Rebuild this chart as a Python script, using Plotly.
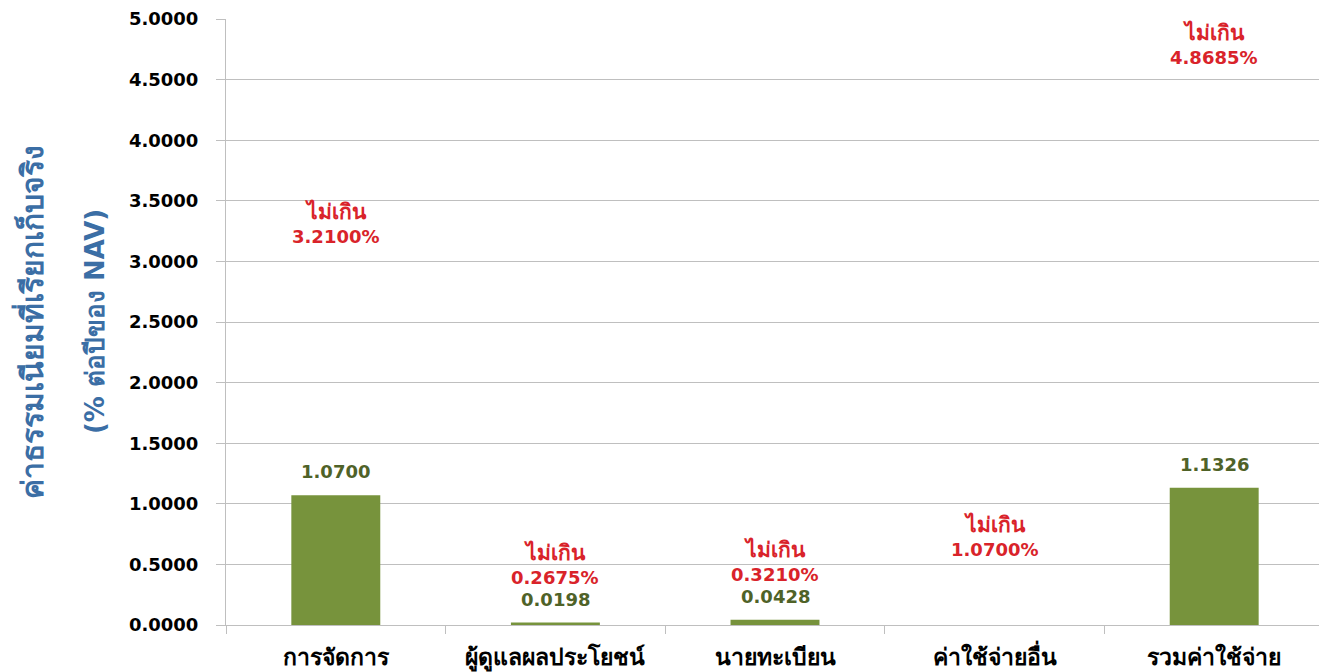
import plotly.graph_objects as go

categories = ["การจัดการ", "ผู้ดูแลผลประโยชน์", "นายทะเบียน", "ค่าใช้จ่ายอื่น", "รวมค่าใช้จ่าย"]
actual_fee = [1.0700, 0.0198, 0.0428, None, 1.1326]
fee_limit = [3.2100, 0.2675, 0.3210, 1.0700, 4.8685]
limit_label_prefix = "ไม่เกิน"
y_ticks = [0, 0.5, 1.0, 1.5, 2.0, 2.5, 3.0, 3.5, 4.0, 4.5, 5.0]
y_title_1 = "ค่าธรรมเนียมที่เรียกเก็บจริง"
y_title_2 = "(% ต่อปีของ NAV)"

# vertical placement (data units) of the red "limit" text blocks
limit_label_y = [3.305, 0.495, 0.516, 0.726, 4.785]

FONT = "DejaVu Sans, Noto Sans, sans-serif"
BAR = "#77933C"
GREEN_TXT = "#4F6228"
RED_TXT = "#D9232A"
GRID = "#BFBFBF"
BLUE = "#3B6EA5"

fig = go.Figure()
fig.add_trace(go.Bar(
    x=categories,
    y=[v if v is not None else 0 for v in actual_fee],
    marker=dict(color=BAR, line=dict(width=0)),
    hoverinfo="x+y",
))

annotations = []
for cat, v in zip(categories, actual_fee):
    if v is None:
        continue
    annotations.append(dict(
        x=cat, y=v, xref="x", yref="y", text=f"<b>{v:.4f}</b>",
        showarrow=False, yanchor="bottom", yshift=11,
        font=dict(family=FONT, size=18, color=GREEN_TXT),
    ))
for cat, lim, ly in zip(categories, fee_limit, limit_label_y):
    annotations.append(dict(
        x=cat, y=ly, xref="x", yref="y",
        text=f"<b>{limit_label_prefix}</b>",
        showarrow=False, yanchor="middle", yshift=13,
        font=dict(family=FONT, size=21, color=RED_TXT),
    ))
    annotations.append(dict(
        x=cat, y=ly, xref="x", yref="y",
        text=f"<b>{lim:.4f}%</b>",
        showarrow=False, yanchor="middle", yshift=-12,
        font=dict(family=FONT, size=18, color=RED_TXT),
    ))

annotations.append(dict(
    x=-0.1785, y=0.5, xref="paper", yref="paper", text=f"<b>{y_title_1}</b>",
    textangle=-90, showarrow=False, xanchor="center", yanchor="middle",
    font=dict(family=FONT, size=30, color=BLUE),
))
annotations.append(dict(
    x=-0.1193, y=0.5, xref="paper", yref="paper", text=f"<b>{y_title_2}</b>",
    textangle=-90, showarrow=False, xanchor="center", yanchor="middle",
    font=dict(family=FONT, size=26, color=BLUE),
))

# the page body adds an 8px offset, so the figure is sized to fit the window
fig.update_layout(
    width=1319, height=664,
    margin=dict(l=218, r=3, t=11, b=47, autoexpand=False),
    paper_bgcolor="white", plot_bgcolor="white",
    bargap=0.595,
    showlegend=False,
    annotations=annotations,
    xaxis=dict(
        type="category", automargin=False,
        tickson="boundaries", ticks="outside", ticklen=8, tickcolor=GRID,
        showline=True, linecolor=GRID, linewidth=1,
        showgrid=False,
        tickfont=dict(family=FONT, size=23, color="black"),
        tickprefix="<b>", ticksuffix="</b>",
        ticklabelstandoff=11,
    ),
    yaxis=dict(
        range=[0, 5.0], tickvals=y_ticks, automargin=False,
        ticktext=[f"<b>{t:.4f}</b>" for t in y_ticks],
        ticks="outside", ticklen=9, tickcolor=GRID,
        showline=True, linecolor=GRID, linewidth=1,
        showgrid=True, gridcolor=GRID, gridwidth=1,
        zeroline=True, zerolinecolor=GRID, zerolinewidth=1,
        tickfont=dict(family=FONT, size=18, color="black"),
        ticklabelstandoff=14,
    ),
)

fig.write_html("out.html")
